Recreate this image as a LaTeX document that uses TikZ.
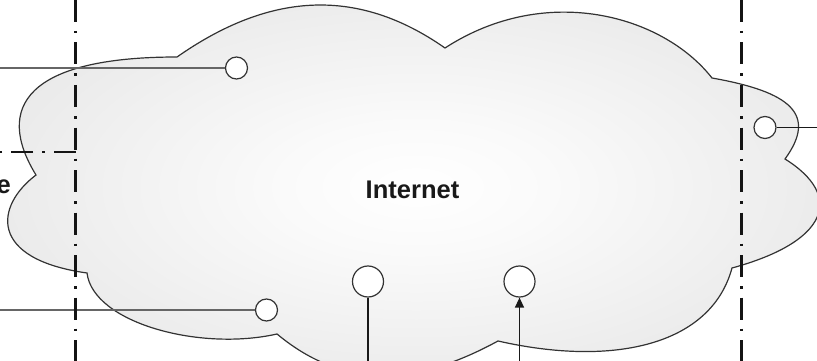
\documentclass[tikz,border=0pt]{standalone}
\usepackage{fontspec}
\setmainfont{Liberation Sans}
\usetikzlibrary{arrows.meta}
\pgfdeclareradialshading{cloudsh}{\pgfpoint{0bp}{0bp}}{color(0bp)=(white); color(8bp)=(black!2); color(50bp)=(black!17)}
\tikzset{
  port/.style={circle, draw=black!80, line width=1.2pt, fill=white, inner sep=0pt},
  bigport/.style={port, minimum size=31pt},
  smallport/.style={port, minimum size=22pt},
  feedline/.style={draw=black!60, line width=2pt},
  wire/.style={draw=black!90, line width=1.3pt},
  border/.style={draw=black!92, line width=2.4pt, dash pattern=on 22pt off 9pt on 2.5pt off 9pt},
  lbl/.style={font=\fontsize{25.5}{30}\selectfont\bfseries, text=black!90, inner sep=0pt}
}
\begin{document}
\begin{tikzpicture}[x=1pt, y=-1pt]
\useasboundingbox (0,0) rectangle (817,361);
\clip (0,0) rectangle (817,361);
% cloud
\def\cloudpath{(177,57)
 .. controls (267,-6) and (355,-15) .. (445,48)
 .. controls (545.7,-17.4) and (662.7,15) .. (712,78)
 .. controls (790.8,91.9) and (817.5,114.4) .. (785,159)
 .. controls (844.4,196.1) and (828.5,241.7) .. (732,268)
 .. controls (711.2,344.8) and (614.4,367.4) .. (498,341)
 .. controls (418.8,384.2) and (346.3,391.6) .. (277,334)
 .. controls (199,351.6) and (93,322.5) .. (87,273)
 .. controls (-12,259) and (-5,206) .. (36,175)
 .. controls (-5.8,107) and (27,57) .. (177,57) -- cycle}
\shade[shading=cloudsh] \cloudpath;
\draw[draw=black!80, line width=1.2pt, line join=miter] \cloudpath;
\node[lbl] (inet) at (412.5,190) {Internet};
\node[lbl, anchor=base east] (lefte) at (11,193) {e};
% ports
\node[smallport] (c1) at (236.5,68) {};
\node[smallport] (c2) at (266.5,310) {};
\node[bigport] (c3) at (368,281.5) {};
\node[bigport] (c4) at (519.5,281.5) {};
\node[smallport] (c5) at (765,127.5) {};
\coordinate (e1) at (0,68);
\coordinate (e2) at (0,310);
\coordinate (e3) at (368,361);
\coordinate (e4) at (519.5,361);
\coordinate (e5) at (817,127.5);
\draw[feedline] (e1) -- (c1.west);
\draw[feedline] (e2) -- (c2.west);
\draw[wire] (c3.south) -- (e3);
\draw[wire, -{Triangle[length=10pt, width=9pt]}] (e4) -- (c4.south);
\draw[wire, line width=1.1pt] (c5.east) -- (e5);
% dash-dot boundaries
\coordinate (vt1) at (75.5,0);
\coordinate (vb1) at (75.5,361);
\coordinate (vt2) at (741.5,0);
\coordinate (vb2) at (741.5,361);
\coordinate (h0) at (0,152);
\coordinate (h1) at (75.5,152);
\draw[border] (vt1) -- (vb1);
\draw[border] (vt2) -- (vb2);
\draw[border] (h1) -- (h0);
\end{tikzpicture}
\end{document}
